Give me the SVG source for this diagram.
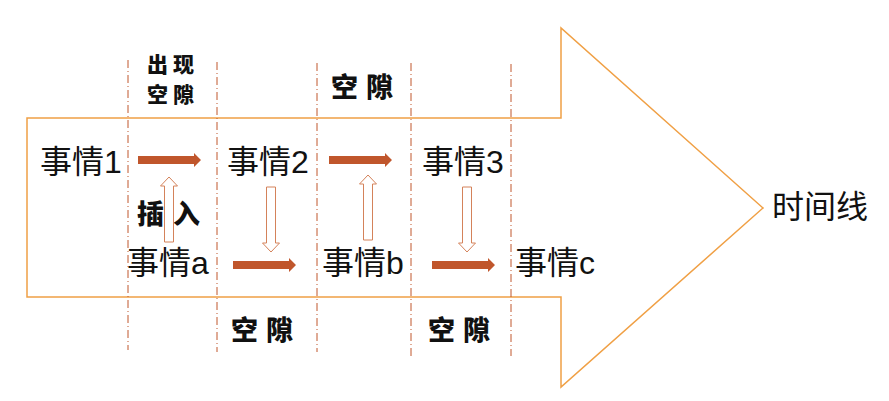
<svg xmlns="http://www.w3.org/2000/svg" width="889" height="401" viewBox="0 0 889 401">
<style>
.ev{font-family:"Liberation Sans","Noto Sans CJK SC",sans-serif;font-size:32px;fill:#111}
.cal{font-family:"Noto Sans CJK SC","Noto Sans CJK JP",sans-serif;font-weight:900;fill:#111}
.dash{stroke:#C0562C;stroke-width:1;stroke-dasharray:8 3 1 3;fill:none}
.solid{fill:#C0562C}
.hollow{fill:#fff;stroke:#D4825A;stroke-width:1}
</style>
<defs>
<path id="sarr" d="M0,-4 L56,-4 L56,-7 L63,0 L56,7 L56,4 L0,4 Z"/>
<path id="uarr" d="M0,0 L8.5,9 L4.5,9 L4.5,65 L-4.5,65 L-4.5,9 L-8.5,9 Z"/>
</defs>
<g id="timeline">
<polygon points="27,118 561,118 561,28 763,208 561,387 561,297 27,297" fill="none" stroke="#F0A045" stroke-width="1.5"/>
<text class="ev" x="772" y="218" font-size="33">时间线</text>
</g>
<g id="dividers">
<line class="dash" x1="128" y1="60" x2="128" y2="350"/>
<line class="dash" x1="217" y1="62" x2="217" y2="352"/>
<line class="dash" x1="317" y1="63" x2="317" y2="352"/>
<line class="dash" x1="411" y1="63" x2="411" y2="356"/>
<line class="dash" x1="511" y1="64" x2="511" y2="356"/>
</g>
<g id="labels">
<text class="cal" font-size="21" x="147 173" y="72">出现</text>
<text class="cal" font-size="21" x="147 173" y="102">空隙</text>
<text class="cal" font-size="27" x="331 366" y="97">空隙</text>
<text class="cal" font-size="27" x="231 266" y="340">空隙</text>
<text class="cal" font-size="27" x="428 463" y="340">空隙</text>
<text class="cal" font-size="27" x="137 173" y="224">插入</text>
</g>
<g id="event1"><text class="ev" x="40" y="173">事情1</text></g>
<g id="event2"><text class="ev" x="227" y="173">事情2</text></g>
<g id="event3"><text class="ev" x="422" y="173">事情3</text></g>
<g id="eventa"><text class="ev" x="127" y="274">事情a</text></g>
<g id="eventb"><text class="ev" x="322" y="274">事情b</text></g>
<g id="eventc"><text class="ev" x="515" y="274">事情c</text></g>
<g id="connectors">
<use href="#sarr" class="solid" x="138" y="160"/>
<use href="#sarr" class="solid" x="329" y="160"/>
<use href="#sarr" class="solid" x="233" y="265"/>
<use href="#sarr" class="solid" x="432" y="265"/>
<use href="#uarr" class="hollow" transform="translate(169,177)"/>
<use href="#uarr" class="hollow" transform="translate(368,175)"/>
<use href="#uarr" class="hollow" transform="translate(271,252) scale(1,-1)"/>
<use href="#uarr" class="hollow" transform="translate(467,252) scale(1,-1)"/>
</g>
</svg>
